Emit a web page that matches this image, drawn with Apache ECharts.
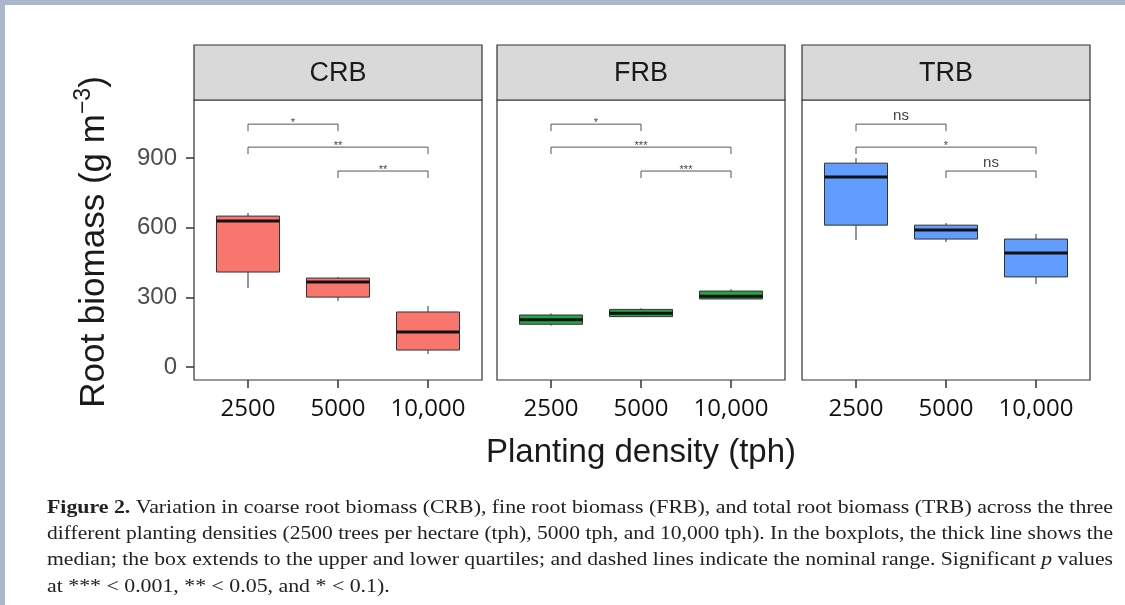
<!DOCTYPE html>
<html>
<head>
<meta charset="utf-8">
<script src="https://cdn.jsdelivr.net/npm/echarts@6/dist/echarts.min.js"></script>
<style>
  html, body { margin: 0; padding: 0; background: #fff; }
  #main { width: 1125px; height: 605px; }
</style>
</head>
<body>
<div id="main"></div>
<script>
const panelNames = ['CRB', 'FRB', 'TRB'];
const densityLabels = ['2500', '5000', '10,000'];
const yTicks = [0, 300, 600, 900];

// [lower whisker, Q1, median, Q3, upper whisker] for 2500 / 5000 / 10,000 tph
const crbStats = [[340, 409, 629, 650, 663], [284, 301, 366, 383, 388], [56, 73, 151, 237, 263]];
const frbStats = [[178, 184, 204, 224, 231], [215, 217, 231, 248, 253], [293, 293, 305, 327, 335]];
const trbStats = [[547, 611, 818, 878, 900], [538, 551, 590, 611, 620], [357, 388, 491, 551, 573]];

// significance brackets: pairs of densities (1-based), bracket heights, labels
const bracketPairs = [[1, 2], [1, 3], [2, 3]];
const bracketHeights = [1046, 947, 844];
const crbSignif = ['*', '**', '**'];
const frbSignif = ['*', '***', '***'];
const trbSignif = ['ns', '*', 'ns'];

const boxColors = ['#f8766d', '#27a446', '#619cff'];
const panelStats = [crbStats, frbStats, trbStats];
const panelSignif = [crbSignif, frbSignif, trbSignif];

const panelLefts = [194, 497, 802];
const panelW = 288, plotTop = 100, plotH = 280, stripTop = 45;
const lineCol = '#333';

const chart = echarts.init(document.getElementById('main'));

const grid = [], xAxis = [], yAxis = [], series = [];
panelNames.forEach((name, i) => {
  grid.push({
    left: panelLefts[i], top: plotTop, width: panelW, height: plotH,
    show: true, borderColor: lineCol, borderWidth: 1.2, backgroundColor: '#fff'
  });
  xAxis.push({
    gridIndex: i, type: 'value', min: 0.4, max: 3.6, position: 'bottom',
    splitLine: { show: false }, axisLine: { show: false, onZero: false },
    axisTick: { show: true, customValues: [1, 2, 3], length: 8, lineStyle: { color: lineCol, width: 1.5 } },
    axisLabel: {
      customValues: [1, 2, 3], formatter: v => densityLabels[Math.round(v) - 1],
      margin: 17, fontFamily: 'Open Sans', fontSize: 24, color: '#111'
    }
  });
  yAxis.push({
    gridIndex: i, type: 'value', min: -56, max: 1150, position: 'left',
    splitLine: { show: false }, axisLine: { show: false, onZero: false },
    axisTick: { show: i === 0, customValues: yTicks, length: 8, lineStyle: { color: lineCol, width: 1.5 } },
    axisLabel: {
      show: i === 0, customValues: yTicks, margin: 17,
      fontFamily: 'Liberation Sans', fontSize: 24, color: '#4d4d4d'
    }
  });

  series.push({
    type: 'custom', xAxisIndex: i, yAxisIndex: i, z: 3,
    data: panelStats[i].map((s, k) => [k + 1].concat(s)),
    renderItem: (params, api) => {
      const x = api.value(0);
      const half = api.size([0.7, 0])[0] / 2;
      const p = [1, 2, 3, 4, 5].map(d => api.coord([x, api.value(d)]));
      const cx = p[0][0];
      return {
        type: 'group',
        children: [
          { type: 'line', shape: { x1: cx, y1: p[0][1], x2: cx, y2: p[1][1] }, style: { stroke: lineCol, lineWidth: 1 } },
          { type: 'line', shape: { x1: cx, y1: p[3][1], x2: cx, y2: p[4][1] }, style: { stroke: lineCol, lineWidth: 1 } },
          { type: 'rect', shape: { x: cx - half, y: p[3][1], width: half * 2, height: p[1][1] - p[3][1] },
            style: { fill: boxColors[i], stroke: lineCol, lineWidth: 1 } },
          { type: 'line', shape: { x1: cx - half, y1: p[2][1], x2: cx + half, y2: p[2][1] }, style: { stroke: '#111', lineWidth: 3 } }
        ]
      };
    }
  });

  series.push({
    type: 'custom', xAxisIndex: i, yAxisIndex: i, z: 4,
    data: bracketPairs.map((pr, k) => [pr[0], pr[1], bracketHeights[k]]),
    renderItem: (params, api) => {
      const a = api.coord([api.value(0), api.value(2)]);
      const b = api.coord([api.value(1), api.value(2)]);
      const drop = api.coord([api.value(0), api.value(2) - 30])[1];
      const label = panelSignif[i][params.dataIndex];
      const isNs = label === 'ns';
      return {
        type: 'group',
        children: [
          { type: 'polyline', shape: { points: [[a[0], drop], [a[0], a[1]], [b[0], a[1]], [b[0], drop]] },
            style: { stroke: '#555', lineWidth: 1, fill: null } },
          { type: 'text', x: (a[0] + b[0]) / 2, y: a[1] + (isNs ? -1 : 4),
            style: { text: label, align: 'center', verticalAlign: 'bottom', fontSize: isNs ? 15 : 11,
              fontFamily: 'Liberation Sans', fill: '#444' } }
        ]
      };
    }
  });
});

// caption text (figure legend)
const captionLines = [
  [['b', 'Figure 2.'], ['n', ' Variation in coarse root biomass (CRB), fine root biomass (FRB), and total root biomass (TRB) across the three']],
  [['n', 'different planting densities (2500 trees per hectare (tph), 5000 tph, and 10,000 tph). In the boxplots, the thick line shows the']],
  [['n', 'median; the box extends to the upper and lower quartiles; and dashed lines indicate the nominal range. Significant '], ['i', 'p'], ['n', ' values']],
  [['n', 'at *** < 0.001, ** < 0.05, and * < 0.1).']]
];
const capFont = '"Liberation Serif", serif';
const capSize = 19;
const ctx = document.createElement('canvas').getContext('2d');
function measure(parts) {
  let w = 0;
  parts.forEach(([s, t]) => {
    ctx.font = (s === 'b' ? 'bold ' : s === 'i' ? 'italic ' : '') + capSize + 'px ' + capFont;
    w += ctx.measureText(t).width;
  });
  return w;
}
const capLeft = 47, capRight = 1113, capYs = [508, 534, 560, 587];
const scale0 = (capRight - capLeft) / measure(captionLines[0]);

const graphic = [
  { type: 'rect', shape: { x: 0, y: 0, width: 1125, height: 5 }, style: { fill: '#a9b6cb' } },
  { type: 'rect', shape: { x: 0, y: 0, width: 5, height: 605 }, style: { fill: '#a9b6cb' } }
];
panelNames.forEach((name, i) => {
  graphic.push({
    type: 'rect', shape: { x: panelLefts[i], y: stripTop, width: panelW, height: plotTop - stripTop },
    style: { fill: '#d9d9d9', stroke: lineCol, lineWidth: 1.2 }
  });
  graphic.push({
    type: 'text', x: panelLefts[i] + panelW / 2, y: (stripTop + plotTop) / 2 + 1,
    style: { text: name, align: 'center', verticalAlign: 'middle', fontSize: 27,
      fontFamily: 'Liberation Sans', fill: '#1a1a1a' }
  });
});
graphic.push({
  type: 'text', x: 94, y: 242, rotation: Math.PI / 2,
  style: {
    text: '{a|Root biomass (g m}{s|−3}{a|)}', align: 'center', verticalAlign: 'middle',
    rich: {
      a: { fontSize: 35, fontFamily: 'Liberation Sans', fill: '#1a1a1a', lineHeight: 44 },
      s: { fontSize: 23, fontFamily: 'Liberation Sans', fill: '#1a1a1a', verticalAlign: 'top', lineHeight: 44 }
    }
  }
});
graphic.push({
  type: 'text', x: 641, y: 453,
  style: { text: 'Planting density (tph)', align: 'center', verticalAlign: 'middle',
    fontSize: 33, fontFamily: 'Liberation Sans', fill: '#1a1a1a' }
});
captionLines.forEach((parts, k) => {
  const sc = k < 3 ? (capRight - capLeft) / measure(parts) : scale0;
  graphic.push({
    type: 'text', x: capLeft, y: capYs[k], scaleX: sc,
    style: {
      text: parts.map(([s, t]) => '{' + s + '|' + t + '}').join(''),
      align: 'left', verticalAlign: 'middle',
      rich: {
        n: { fontSize: capSize, fontFamily: capFont, fill: '#222' },
        b: { fontSize: capSize, fontFamily: capFont, fill: '#222', fontWeight: 'bold' },
        i: { fontSize: capSize, fontFamily: capFont, fill: '#222', fontStyle: 'italic' }
      }
    }
  });
});

chart.setOption({
  animation: false,
  grid, xAxis, yAxis, series, graphic
});
</script>
</body>
</html>
